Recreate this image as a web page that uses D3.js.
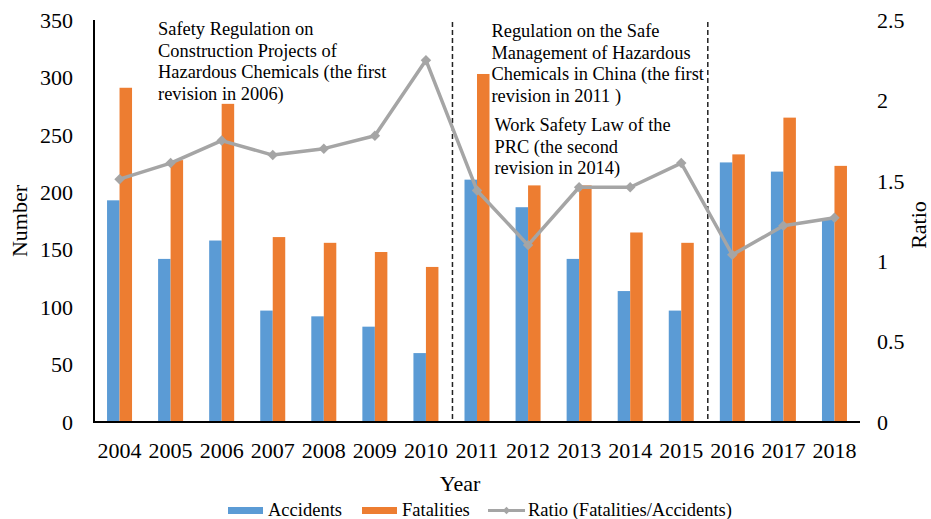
<!DOCTYPE html>
<html>
<head>
<meta charset="utf-8">
<script src="https://cdn.jsdelivr.net/npm/d3@7"></script>
<style>
  body { margin: 0; background: #fff; }
  svg text, svg tspan { font-family: "Liberation Serif", "DejaVu Serif", serif; fill: #000; }
</style>
</head>
<body>
<div id="chart"></div>
<script>
const years = ["2004", "2005", "2006", "2007", "2008", "2009", "2010", "2011",
               "2012", "2013", "2014", "2015", "2016", "2017", "2018"];
const accidents = [193, 142, 158, 97, 92, 83, 60, 211, 187, 142, 114, 97, 226, 218, 176];
const fatalities = [291, 228, 277, 161, 156, 148, 135, 303, 206, 206, 165, 156, 233, 265, 223];
const ratio = [1.51, 1.61, 1.75, 1.66, 1.70, 1.78, 2.25, 1.44, 1.10, 1.46, 1.46, 1.61, 1.04, 1.22, 1.27];
const leftTicks = [0, 50, 100, 150, 200, 250, 300, 350];
const rightTicks = [0, 0.5, 1, 1.5, 2, 2.5];
const dividers = ["2011", "2016"];

const notes = [
    { year: "2005", dx: 13, y0: 35, lines: ["Safety Regulation on", "Construction Projects of", "Hazardous Chemicals (the first", "revision in 2006)"] },
    { year: "2011", dx: 40, y0: 37, lines: ["Regulation on the Safe", "Management of Hazardous", "Chemicals in China (the first", "revision in 2011 )"] },
    { year: "2011", dx: 43, y0: 131, lines: ["Work Safety Law of the", "PRC (the second", "revision in 2014)"] }
];

const width = 931, height = 519;
const margin = { top: 20, right: 71, bottom: 97, left: 94 };
const serif = "'Liberation Serif', 'Times New Roman', serif";

const svg = d3.select("#chart")
    .append("svg")
    .attr("width", width)
    .attr("height", height)
    .attr("font-family", serif);

const x = d3.scaleBand()
    .domain(years)
    .range([margin.left, width - margin.right]);

const y = d3.scaleLinear()
    .domain([0, 350])
    .range([height - margin.bottom, margin.top]);

const y2 = d3.scaleLinear()
    .domain([0, 2.5])
    .range([height - margin.bottom, margin.top]);

const barW = 12.5;
const blue = "#5B9BD5", orange = "#ED7D31", grey = "#A5A5A5";

// bars
svg.append("g").selectAll("rect")
    .data(years)
    .join("rect")
    .attr("x", d => x(d) + x.bandwidth() / 2 - barW)
    .attr("y", (d, i) => y(accidents[i]))
    .attr("width", barW)
    .attr("height", (d, i) => y(0) - y(accidents[i]))
    .attr("fill", blue);

svg.append("g").selectAll("rect")
    .data(years)
    .join("rect")
    .attr("x", d => x(d) + x.bandwidth() / 2)
    .attr("y", (d, i) => y(fatalities[i]))
    .attr("width", barW)
    .attr("height", (d, i) => y(0) - y(fatalities[i]))
    .attr("fill", orange);

// dashed dividers between periods
svg.append("g").selectAll("line")
    .data(dividers)
    .join("line")
    .attr("x1", d => x(d) + 1)
    .attr("x2", d => x(d) + 1)
    .attr("y1", y(350) + 2)
    .attr("y2", y(0))
    .attr("stroke", "#222")
    .attr("stroke-width", 1.5)
    .attr("stroke-dasharray", "5,3");

// ratio line
const line = d3.line()
    .x((d, i) => x(years[i]) + x.bandwidth() / 2)
    .y(d => y2(d));

svg.append("path")
    .datum(ratio)
    .attr("d", line)
    .attr("fill", "none")
    .attr("stroke", grey)
    .attr("stroke-width", 3.5)
    .attr("stroke-linejoin", "round");

const diamond = d3.symbol().type(d3.symbolDiamond2).size(70);
svg.append("g").selectAll("path")
    .data(ratio)
    .join("path")
    .attr("d", diamond)
    .attr("transform", (d, i) => `translate(${x(years[i]) + x.bandwidth() / 2},${y2(d)})`)
    .attr("fill", grey);

// axes
svg.append("line")
    .attr("x1", margin.left).attr("x2", margin.left)
    .attr("y1", y(350)).attr("y2", y(0))
    .attr("stroke", "#000").attr("stroke-width", 2);

svg.append("line")
    .attr("x1", margin.left - 1).attr("x2", width - margin.right)
    .attr("y1", y(0)).attr("y2", y(0))
    .attr("stroke", "#000").attr("stroke-width", 2);

svg.append("g").selectAll("text")
    .data(leftTicks)
    .join("text")
    .attr("x", 73)
    .attr("y", d => y(d))
    .attr("dy", "0.35em")
    .attr("text-anchor", "end")
    .attr("font-size", 22)
    .text(d => d);

svg.append("g").selectAll("text")
    .data(rightTicks)
    .join("text")
    .attr("x", 877)
    .attr("y", d => y2(d))
    .attr("dy", "0.35em")
    .attr("font-size", 22)
    .text(d => d);

svg.append("g").selectAll("text")
    .data(years)
    .join("text")
    .attr("x", d => x(d) + x.bandwidth() / 2)
    .attr("y", 458)
    .attr("text-anchor", "middle")
    .attr("font-size", 22)
    .text(d => d);

// axis titles
svg.append("text")
    .attr("transform", `translate(27, ${(y(0) + y(350)) / 2}) rotate(-90)`)
    .attr("text-anchor", "middle")
    .attr("font-size", 22)
    .text("Number");

svg.append("text")
    .attr("transform", `translate(926, ${(y(0) + y(350)) / 2 + 4}) rotate(-90)`)
    .attr("text-anchor", "middle")
    .attr("font-size", 22)
    .text("Ratio");

svg.append("text")
    .attr("x", 460)
    .attr("y", 491)
    .attr("text-anchor", "middle")
    .attr("font-size", 22)
    .text("Year");

// annotations
notes.forEach(n => {
    const t = svg.append("text")
        .attr("x", x(n.year) + n.dx)
        .attr("y", n.y0)
        .attr("font-size", 18.4);
    n.lines.forEach((l, i) => {
        t.append("tspan")
            .attr("x", x(n.year) + n.dx)
            .attr("y", n.y0 + i * 21.6)
            .text(l);
    });
});

// legend
const legend = svg.append("g");
const items = [
    { label: "Accidents", type: "bar", color: blue, x: 228, tx: 268 },
    { label: "Fatalities", type: "bar", color: orange, x: 362, tx: 402 },
    { label: "Ratio (Fatalities/Accidents)", type: "line", color: grey, x: 488, tx: 528 }
];
items.forEach(d => {
    if (d.type === "bar") {
        legend.append("rect")
            .attr("x", d.x).attr("y", 507)
            .attr("width", 35).attr("height", 7)
            .attr("fill", d.color);
    } else {
        legend.append("line")
            .attr("x1", d.x).attr("x2", d.x + 37)
            .attr("y1", 510.5).attr("y2", 510.5)
            .attr("stroke", d.color).attr("stroke-width", 3);
        legend.append("path")
            .attr("d", d3.symbol().type(d3.symbolDiamond2).size(35))
            .attr("transform", `translate(${d.x + 18.5},510.5)`)
            .attr("fill", d.color);
    }
    legend.append("text")
        .attr("x", d.tx).attr("y", 516)
        .attr("font-size", 18.5)
        .text(d.label);
});
</script>
</body>
</html>
